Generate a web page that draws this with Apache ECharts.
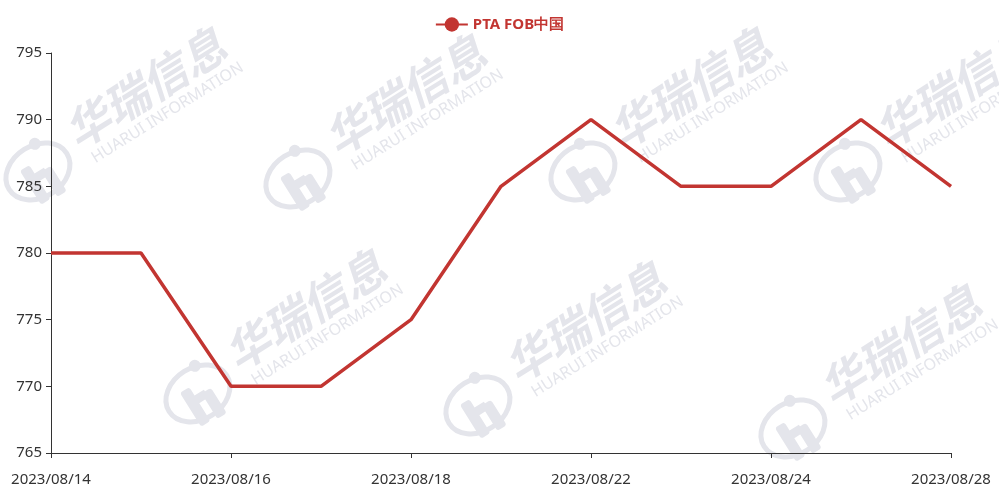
<!DOCTYPE html>
<html><head><meta charset="utf-8">
<script src="https://cdn.jsdelivr.net/npm/echarts@6/dist/echarts.min.js"></script>
<style>html,body{margin:0;padding:0;background:#fff}#c{width:999px;height:494px}</style>
</head><body><div id="c"></div>
<script>
const categories = ['2023/08/14','2023/08/15','2023/08/16','2023/08/17','2023/08/18','2023/08/21','2023/08/22','2023/08/23','2023/08/24','2023/08/25','2023/08/28'];
const seriesName = 'PTA FOB中国';
const values = [780, 780, 770, 770, 775, 785, 790, 785, 785, 790, 785];
const yTicks = {min: 765, max: 795, interval: 5};
const wmCn = '华瑞信息';
const wmEn = 'HUARUI INFORMATION';
const wmTiles = [[145,88],[405,95],[690,88],[955,88],[305,310],[585,322],[900,345]];

const chart = echarts.init(document.getElementById('c'));
const font = 'Noto Sans, sans-serif';
const wmColor = '#e4e5eb';
const ang = 32 * Math.PI / 180;
const graphics = [];
wmTiles.forEach(p => {
  graphics.push({type:'group', x:p[0], y:p[1], rotation: ang, z:-10, silent:true, children: [
    {type:'text', x:0, y:0, style:{text: wmCn, fill: wmColor, font:'italic bold 45px "Noto Sans CJK SC"', textAlign:'center', textVerticalAlign:'middle'}},
    {type:'text', x:6, y:33, style:{text: wmEn, fill: wmColor, font:'16px "Noto Sans"', textAlign:'center', textVerticalAlign:'middle'}},
    {type:'group', x:-135, y:14, children: [
      {type:'ellipse', shape:{cx:0, cy:0, rx:34, ry:26}, style:{fill:'none', stroke: wmColor, lineWidth:5}},
      {type:'circle', shape:{cx:12, cy:-25, r:6}, style:{fill: wmColor}},
      {type:'rect', shape:{x:-15, y:-10, width:11, height:40, r:3}, style:{fill: wmColor}},
      {type:'rect', shape:{x:3, y:2, width:11, height:30, r:3}, style:{fill: wmColor}},
      {type:'rect', shape:{x:-5, y:0, width:12, height:9}, style:{fill: wmColor}}
    ]}
  ]});
});
chart.setOption({
  animation: false,
  graphic: graphics,
  legend: {
    top: 12, left: 'center',
    itemWidth: 32, itemHeight: 18, itemGap: 8,
    textStyle: {color: '#c23531', fontWeight: 'bold', fontSize: 15, fontFamily: font},
    data: [seriesName]
  },
  grid: {left: 51, right: 48, top: 53, bottom: 41, containLabel: false},
  xAxis: {
    type: 'category', boundaryGap: false, data: categories,
    axisLine: {lineStyle: {color: '#333'}},
    axisTick: {alignWithLabel: true, interval: 1, length: 5},
    axisLabel: {interval: 1, color: '#333', fontSize: 15, fontFamily: font, margin: 19}
  },
  yAxis: {
    type: 'value', min: yTicks.min, max: yTicks.max, interval: yTicks.interval,
    axisLine: {show: true, lineStyle: {color: '#333'}},
    axisTick: {show: true, length: 5},
    splitLine: {show: false},
    axisLabel: {color: '#333', fontSize: 15, fontFamily: font, margin: 9}
  },
  series: [{
    name: seriesName, type: 'line', data: values,
    symbol: 'circle', symbolSize: 14, showSymbol: false,
    itemStyle: {color: '#c23531'},
    lineStyle: {width: 3.5, color: '#c23531'}
  }]
});
</script></body></html>
